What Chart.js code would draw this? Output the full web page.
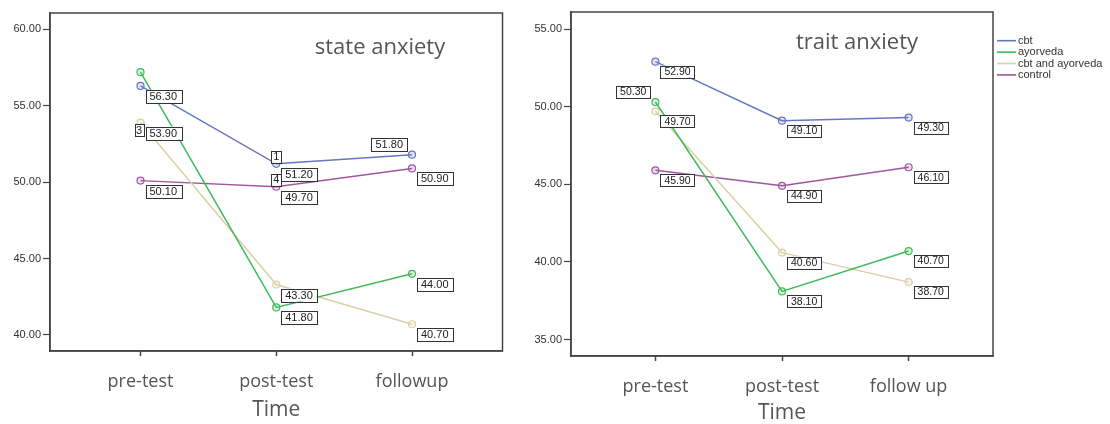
<!DOCTYPE html>
<html>
<head>
<meta charset="utf-8">
<script src="https://cdn.jsdelivr.net/npm/chart.js@4"></script>
<style>
  html, body { margin:0; padding:0; background:#fff; }
  body { width:1110px; height:424px; position:relative; overflow:hidden; }
  .box { position:absolute; top:0; height:424px; }
</style>
</head>
<body>
<div class="box" style="left:0;width:530px"><canvas id="stateChart"></canvas></div>
<div class="box" style="left:530px;width:580px"><canvas id="traitChart"></canvas></div>
<script>
// categories and tick labels
const stateCategories = ['pre-test', 'post-test', 'followup'];
const traitCategories = ['pre-test', 'post-test', 'follow up'];
const stateTicks = [40, 45, 50, 55, 60];
const traitTicks = [35, 40, 45, 50, 55];
const groups = ['cbt', 'ayorveda', 'cbt and ayorveda', 'control'];

// state anxiety means
const stateCbt = [56.3, 51.2, 51.8];
const stateAyorveda = [57.2, 41.8, 44.0];
const stateBoth = [53.9, 43.3, 40.7];
const stateControl = [50.1, 49.7, 50.9];

// trait anxiety means
const traitCbt = [52.9, 49.1, 49.3];
const traitAyorveda = [50.3, 38.1, 40.7];
const traitBoth = [49.7, 40.6, 38.7];
const traitControl = [45.9, 44.9, 46.1];

const COLORS = ['#6775c2', '#3fba5c', '#d9d1aa', '#a0579f'];

// where each value box sits: 'b' below right, 'a' above left, null none
const statePlaces = [['b','b','a'], [null,'b','b'], ['b','b','b'], ['b','b','b']];
const traitPlaces = [['b','b','b'], ['a','b','b'], ['b','b','b'], ['b','b','b']];
const stateTags = [{ds:2, i:0, text:'3', at:'left'}, {ds:0, i:1, text:'1', at:'top'}, {ds:3, i:1, text:'4', at:'top'}];

function drawBox(ctx, x, y, w, h, text) {
  ctx.fillStyle = '#fff';
  ctx.fillRect(x, y, w, h);
  ctx.strokeStyle = '#333';
  ctx.lineWidth = 1;
  ctx.strokeRect(Math.round(x) + 0.5, Math.round(y) + 0.5, Math.round(w), Math.round(h));
  ctx.fillStyle = '#222';
  ctx.textAlign = 'center';
  ctx.textBaseline = 'middle';
  ctx.fillText(text, x + w / 2, y + h / 2 + 0.5);
}

const frame = {
  id: 'frame',
  beforeDatasetsDraw(chart) {
    const a = chart.chartArea, ctx = chart.ctx;
    ctx.save();
    ctx.strokeStyle = '#444';
    ctx.lineWidth = 1.5;
    ctx.strokeRect(a.left, a.top, a.right - a.left, a.bottom - a.top);
    ctx.restore();
  }
};

const valueBoxes = {
  id: 'valueBoxes',
  afterDatasetsDraw(chart, args, o) {
    const ctx = chart.ctx;
    ctx.save();
    ctx.font = o.size + 'px Arial';
    chart.data.datasets.forEach((ds, di) => {
      const meta = chart.getDatasetMeta(di);
      meta.data.forEach((pt, i) => {
        const place = o.places[di][i];
        if (!place) return;
        const text = ds.data[i].y.toFixed(2);
        const w = ctx.measureText(text).width + 8, h = o.boxH;
        if (place === 'b') drawBox(ctx, pt.x + 5, pt.y + 4, w, h, text);
        else drawBox(ctx, pt.x - 5 - w, pt.y - 4 - h, w, h, text);
      });
    });
    (o.tags || []).forEach(t => {
      const pt = chart.getDatasetMeta(t.ds).data[t.i];
      if (t.at === 'left') drawBox(ctx, pt.x - 6, pt.y + 1.5, 9, 12, t.text);
      else drawBox(ctx, pt.x - 5, pt.y - 13, 10, 12, t.text);
    });
    ctx.restore();
  }
};

const innerTitle = {
  id: 'innerTitle',
  afterDraw(chart, args, o) {
    const ctx = chart.ctx;
    ctx.save();
    ctx.font = '22px "Open Sans"';
    ctx.fillStyle = '#555';
    ctx.textAlign = 'center';
    ctx.textBaseline = 'middle';
    ctx.fillText(o.text, o.x, o.y);
    ctx.restore();
  }
};

const sideLegend = {
  id: 'sideLegend',
  afterDraw(chart, args, o) {
    if (!o.show) return;
    const ctx = chart.ctx, a = chart.chartArea;
    ctx.save();
    ctx.font = '11px Arial';
    ctx.textBaseline = 'middle';
    ctx.textAlign = 'left';
    chart.data.datasets.forEach((ds, i) => {
      const y = 40.7 + i * 11.4;
      ctx.strokeStyle = ds.borderColor;
      ctx.lineWidth = 1.6;
      ctx.beginPath();
      ctx.moveTo(a.right + 4, y);
      ctx.lineTo(a.right + 23, y);
      ctx.stroke();
      ctx.fillStyle = '#333';
      ctx.fillText(ds.label, a.right + 25, y);
    });
    ctx.restore();
  }
};

function series(values) {
  return values.map((v, i) => ({x: i, y: v}));
}

function makeChart(id, cfg) {
  const datasets = cfg.values.map((vals, i) => ({
    label: groups[i],
    data: series(vals),
    borderColor: COLORS[i],
    backgroundColor: COLORS[i] + '40',
    borderWidth: 1.5,
    pointRadius: 3.5,
    pointBorderWidth: 1.2,
    pointBackgroundColor: COLORS[i] + '30',
    tension: 0
  }));
  return new Chart(document.getElementById(id), {
    type: 'line',
    data: { datasets },
    options: {
      responsive: true,
      maintainAspectRatio: false,
      animation: false,
      layout: { padding: cfg.padding },
      plugins: {
        legend: { display: false },
        tooltip: { enabled: false },
        valueBoxes: { places: cfg.places, tags: cfg.tags, size: cfg.labelSize, boxH: cfg.boxH },
        innerTitle: cfg.title,
        sideLegend: { show: cfg.legend }
      },
      scales: {
        x: {
          type: 'linear',
          min: -2 / 3,
          max: 2 + 2 / 3,
          afterBuildTicks: s => { s.ticks = cfg.categories.map((c, i) => ({value: i})); },
          ticks: {
            callback: v => cfg.categories[v],
            font: { family: 'Open Sans', size: 18 },
            color: '#555',
            padding: 15,
            autoSkip: false,
            maxRotation: 0
          },
          grid: { drawOnChartArea: false, tickLength: 5, color: '#444', tickWidth: 1.5 },
          border: { color: '#444', width: 1.5 },
          title: {
            display: true,
            text: 'Time',
            font: { family: 'Open Sans', size: 21 },
            color: '#555',
            padding: { top: 0, bottom: cfg.timePad }
          },
          afterFit: s => { s.height = cfg.xHeight; }
        },
        y: {
          min: cfg.yMin,
          max: cfg.yMax,
          afterBuildTicks: s => { s.ticks = cfg.yTicks.map(v => ({value: v})); },
          ticks: {
            callback: v => v.toFixed(2),
            font: { family: 'Arial', size: 11 },
            color: '#333',
            padding: 2
          },
          grid: { drawOnChartArea: false, tickLength: 7, color: '#444', tickWidth: 1.2 },
          border: { color: '#444', width: 1.5 },
          afterFit: s => { s.width = cfg.yWidth; }
        }
      }
    },
    plugins: [frame, valueBoxes, innerTitle, sideLegend]
  });
}

makeChart('stateChart', {
  values: [stateCbt, stateAyorveda, stateBoth, stateControl],
  categories: stateCategories,
  yTicks: stateTicks,
  yMin: 38.95, yMax: 61.07,
  places: statePlaces,
  tags: stateTags,
  labelSize: 11, boxH: 13,
  title: { text: 'state anxiety', x: 380, y: 48 },
  legend: false,
  padding: { top: 13, right: 27.5, left: 0, bottom: 0 },
  xHeight: 73, yWidth: 50, timePad: 1
});

makeChart('traitChart', {
  values: [traitCbt, traitAyorveda, traitBoth, traitControl],
  categories: traitCategories,
  yTicks: traitTicks,
  yMin: 33.94, yMax: 56.1,
  places: traitPlaces,
  tags: [],
  labelSize: 10.5, boxH: 12,
  title: { text: 'trait anxiety', x: 327, y: 43 },
  legend: true,
  padding: { top: 12, right: 117, left: 0, bottom: 0 },
  xHeight: 68, yWidth: 41, timePad: -2
});
</script>
</body>
</html>
